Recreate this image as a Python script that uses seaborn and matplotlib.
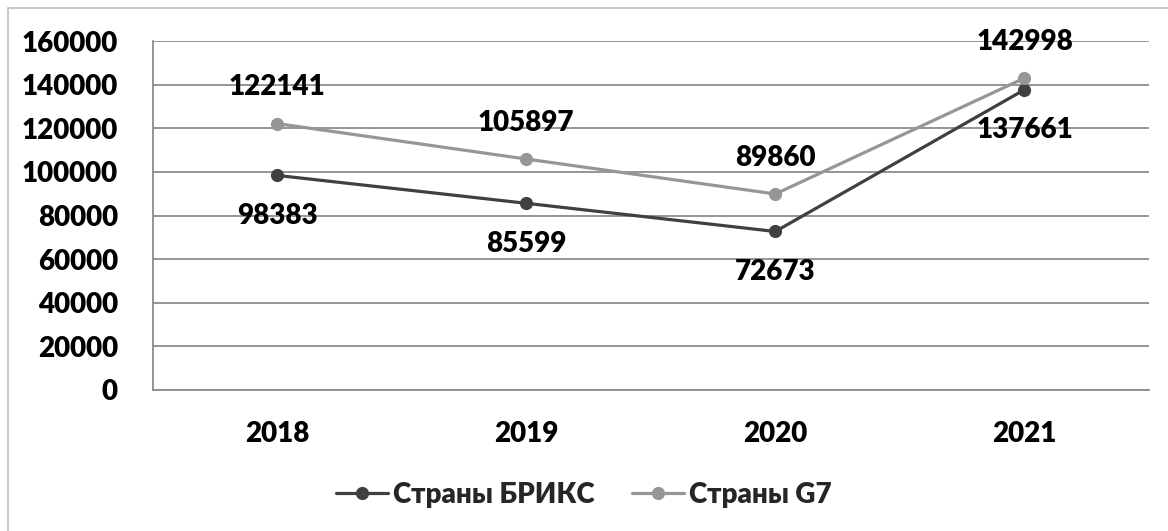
import matplotlib
matplotlib.use("Agg")
import matplotlib.pyplot as plt
from matplotlib.lines import Line2D
import pandas as pd
import seaborn as sns

years = ["2018", "2019", "2020", "2021"]
brics = [98383, 85599, 72673, 137661]
g7 = [122141, 105897, 89860, 142998]
series_names = ["Страны БРИКС", "Страны G7"]
colors = ["#404040", "#969696"]

df = pd.DataFrame({
    "year": years * 2,
    "value": brics + g7,
    "series": [series_names[0]] * 4 + [series_names[1]] * 4,
})

sns.set_theme(style="white")
plt.rcParams["font.family"] = ["Lato", "DejaVu Sans"]
FS = 20
FW = "heavy"

fig = plt.figure(figsize=(11.68, 5.31), dpi=100)
ax = fig.add_axes([152.5 / 1168, 1 - 390 / 531, (1149 - 152.5) / 1168, 349 / 531])

sns.lineplot(data=df, x="year", y="value", hue="series", palette=colors,
             marker="o", markersize=9.5, markeredgewidth=0, linewidth=2.3,
             ax=ax, legend=False, sort=False)

# data labels: BRICS below, G7 above
for i, v in enumerate(brics):
    ax.annotate(str(v), (i, v), xytext=(0, -29), textcoords="offset points",
                ha="center", va="center", fontsize=FS, fontweight=FW, color="black")
for i, v in enumerate(g7):
    ax.annotate(str(v), (i, v), xytext=(0, 26), textcoords="offset points",
                ha="center", va="center", fontsize=FS, fontweight=FW, color="black")

grid_color = "#8c8c8c"
ax.set_ylim(0, 160000)
ax.set_xlim(-0.5, 3.5)
ax.set_yticks(range(0, 160001, 20000))
ax.yaxis.grid(True, color=grid_color, linewidth=1.3)
ax.set_axisbelow(True)
ax.set_xticks(range(4))
ax.set_xticklabels(years)
ax.set_xticks([-0.5, 0.5, 1.5, 2.5, 3.5], minor=True)
ax.tick_params(axis="x", which="major", length=0, pad=22, labelsize=FS)
ax.tick_params(axis="x", which="minor", length=7, width=1.3, color=grid_color, direction="out")
ax.tick_params(axis="y", length=8, width=1.3, color=grid_color, pad=17, labelsize=FS)
for lab in ax.get_xticklabels() + ax.get_yticklabels():
    lab.set_fontweight(FW)
    lab.set_color("black")
ax.set_xlabel("")
ax.set_ylabel("")
for side in ["top", "right"]:
    ax.spines[side].set_visible(False)
for side in ["left", "bottom"]:
    ax.spines[side].set_color(grid_color)
    ax.spines[side].set_linewidth(1.3)

handles = [Line2D([], [], color=c, linewidth=2.3, marker="o", markersize=9.5,
                  markeredgewidth=0) for c in colors]
fig.legend(handles, series_names, loc="center", bbox_to_anchor=(0.5, 1 - 495 / 531),
           ncol=2, frameon=False, handlelength=1.85, handletextpad=0.2,
           columnspacing=1.35, prop={"family": ["Lato", "DejaVu Sans"], "weight": FW, "size": FS})

# outer chart border (left and top visible)
fig.add_artist(Line2D([8 / 1168, 8 / 1168], [0, 1 - 8 / 531], color="#bfbfbf",
                      linewidth=1.2, transform=fig.transFigure))
fig.add_artist(Line2D([8 / 1168, 1], [1 - 8 / 531, 1 - 8 / 531], color="#bfbfbf",
                      linewidth=1.2, transform=fig.transFigure))

fig.savefig("out.png", dpi=100)
